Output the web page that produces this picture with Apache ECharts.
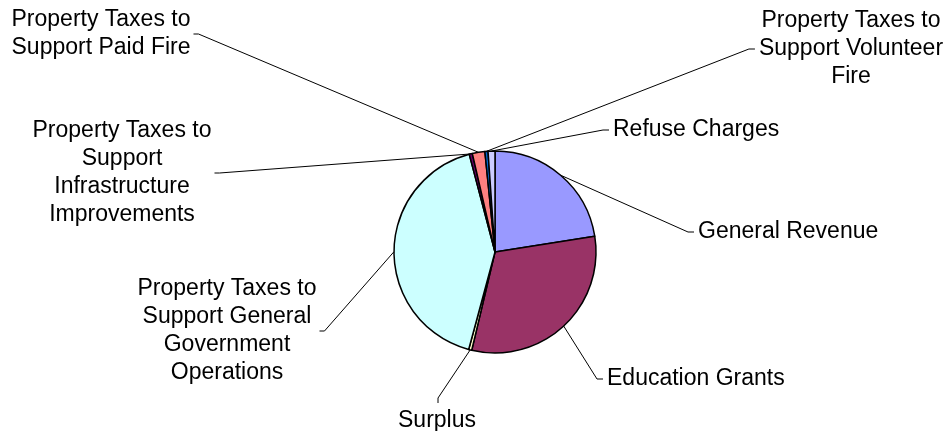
<!DOCTYPE html>
<html>
<head>
<meta charset="utf-8">
<script src="https://cdn.jsdelivr.net/npm/echarts@6/dist/echarts.min.js"></script>
<style>
html,body{margin:0;padding:0;background:#fff;}
#chart{width:950px;height:431px;}
</style>
</head>
<body>
<div id="chart"></div>
<script>
const categories = [
  'General Revenue',
  'Education Grants',
  'Surplus',
  'Property Taxes to\nSupport General\nGovernment\nOperations',
  'Property Taxes to\nSupport\nInfrastructure\nImprovements',
  'Property Taxes to\nSupport Paid Fire',
  'Property Taxes to\nSupport Volunteer\nFire',
  'Refuse Charges'
];
const values = [22.5, 31.2, 0.5, 41.7, 0.5, 2.0, 0.5, 1.1];
const colors = ['#9999FF', '#993366', '#FFFFCC', '#CCFFFF', '#660066', '#FF8080', '#0066CC', '#CCCCFF'];

// label placement (layout only)
const place = [
  {x: 698, y: 232, align: 'left',   side: 'left'},
  {x: 607, y: 379, align: 'left',   side: 'left'},
  {x: 437, y: 421, align: 'center', side: 'top'},
  {x: 227, y: 331, align: 'center', side: 'right'},
  {x: 122, y: 173, align: 'center', side: 'right'},
  {x: 101, y: 34,  align: 'center', side: 'right'},
  {x: 851, y: 49,  align: 'center', side: 'left'},
  {x: 613, y: 130, align: 'left',   side: 'left'}
];

const chart = echarts.init(document.getElementById('chart'));
chart.setOption({
  animation: false,
  backgroundColor: '#ffffff',
  series: [{
    type: 'pie',
    center: [495, 252],
    radius: 101,
    startAngle: 90,
    clockwise: true,
    avoidLabelOverlap: false,
    data: categories.map((c, i) => ({name: c, value: values[i], itemStyle: {color: colors[i]}})),
    itemStyle: {borderColor: '#000', borderWidth: 1.5},
    label: {
      show: true,
      position: 'outside',
      formatter: '{b}',
      color: '#000',
      fontFamily: 'Liberation Sans, Arial, sans-serif',
      fontSize: 23,
      lineHeight: 28
    },
    labelLine: {show: true, length: 10, length2: 10, lineStyle: {color: '#000', width: 1}},
    emphasis: {disabled: true},
    labelLayout: function (params) {
      const p = place[params.dataIndex];
      const w = params.labelRect.width, h = params.labelRect.height;
      const left = p.align === 'left' ? p.x : (p.align === 'center' ? p.x - w / 2 : p.x - w);
      const top = p.y - h / 2;
      const start = params.labelLinePoints[0];
      let end, elbow;
      if (p.side === 'left') {
        end = [left - 4, p.y];
        elbow = [left - 10, p.y];
      } else if (p.side === 'right') {
        end = [left + w + 3, p.y];
        elbow = [left + w + 8, p.y];
      } else {
        end = [p.x + 1, top - 4];
        elbow = [p.x + 1, top - 9];
      }
      return {
        x: p.x,
        y: p.y,
        align: p.align,
        verticalAlign: 'middle',
        labelLinePoints: [start, elbow, end]
      };
    }
  }]
});
</script>
</body>
</html>
